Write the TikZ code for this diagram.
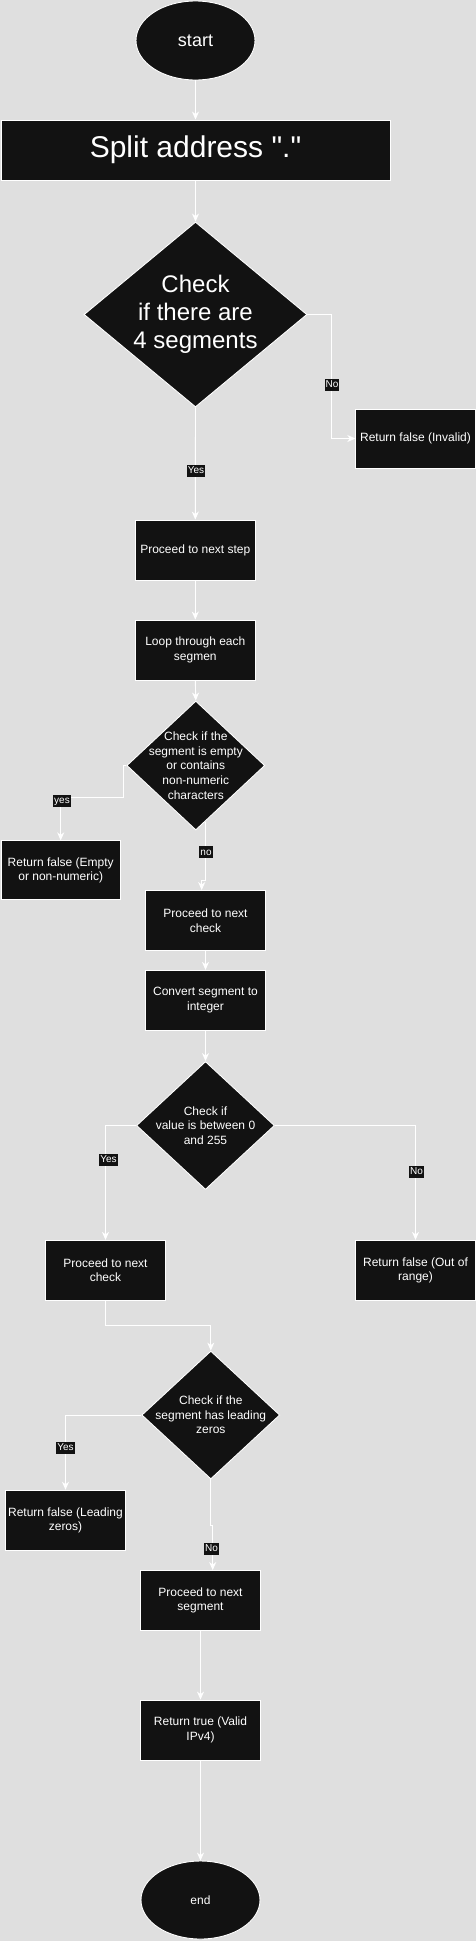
\documentclass[tikz,border=0pt]{standalone}
\usepackage{fontspec}
\setmainfont{Liberation Sans}
\newfontfamily\rawfont{Liberation Sans}[Ligatures=TeXOff]
\usetikzlibrary{shapes.geometric,arrows.meta,calc}
\definecolor{bg}{HTML}{DFDFDF}
\definecolor{nodefill}{HTML}{121212}
\tikzset{
 base/.style={draw=white, line width=0.9pt, fill=nodefill, text=white, align=center, inner sep=0pt},
 box/.style={base, rectangle, minimum width=120pt, minimum height=60pt, font=\fontsize{12}{14.6}\selectfont},
 oval/.style={base, ellipse, minimum width=119pt, minimum height=79pt},
 dia/.style={base, diamond, minimum width=138pt, minimum height=128pt},
 dtext/.style={text=white, align=center, inner sep=0pt, font=\fontsize{12}{14.6}\selectfont},
 arr/.style={draw=white, line width=0.9pt, -{Stealth[length=8pt,width=7pt,inset=2.5pt]}},
 lbl/.style={fill=nodefill, text=white, inner xsep=1pt, inner ysep=1.2pt, text height=7.4pt, text depth=2pt, font=\fontsize{10}{12}\selectfont},
}
\begin{document}
\begin{tikzpicture}[x=1pt,y=-1pt]
\fill[bg] (0,0) rectangle (476,1941);
\useasboundingbox (0,0) rectangle (476,1941);

% nodes
\node[oval, font=\fontsize{18}{21}\selectfont] (startn) at (195.5,40.5) {start};
\node[box, minimum width=389pt, font=\rawfont\fontsize{30}{36}\selectfont] (split) at (195.5,150) {Split address "."};
\node[dia, minimum width=223pt, minimum height=185pt] (d1) at (195.5,314.5) {};
\node[dtext, font=\fontsize{24}{28}\selectfont] (d1t) at (d1.center) {Check\\if there are\\4 segments};
\node[box, minimum width=119.5pt, minimum height=59pt] (inv) at (415.5,438.5) {Return false (Invalid)};
\node[box] (step) at (195.3,550) {Proceed to next step};
\node[box] (loop) at (195.3,650) {Loop through each\\segmen};
\node[dia, minimum height=129pt] (d2) at (195.8,765.5) {};
\node[dtext] (d2t) at (d2.center) {Check if the\\segment is empty\\or contains\\non-numeric\\characters};
\node[box, minimum width=119pt, minimum height=59pt] (empty) at (60.7,870.3) {Return false (Empty\\or non-numeric)};
\node[box] (chk1) at (205.5,920.5) {Proceed to next\\check};
\node[box] (conv) at (205.5,1000.3) {Convert segment to\\integer};
\node[dia] (d3) at (205.5,1125.5) {};
\node[dtext] (d3t) at (d3.center) {Check if\\value is between 0\\and 255};
\node[box] (chk2) at (105.5,1270.3) {Proceed to next\\check};
\node[box, minimum width=119.5pt] (oor) at (415.5,1270.3) {Return false (Out of\\range)};
\node[dia] (d4) at (210.8,1415) {};
\node[dtext] (d4t) at (d4.center) {Check if the\\segment has leading\\zeros};
\node[box] (lead) at (65.5,1520.2) {Return false (Leading\\zeros)};
\node[box] (nseg) at (200.5,1600.5) {Proceed to next\\segment};
\node[box] (vtrue) at (200.5,1730) {Return true (Valid\\IPv4)};
\node[oval, minimum height=78pt, font=\fontsize{12}{14}\selectfont] (stop) at (200.5,1900) {end};

% connectors
\draw[arr] (startn.south) -- (split.north);
\draw[arr] (split.south) -- (d1.north);
\draw[arr] (d1.east) -- (331.7,314.5) |- (inv.west);
\draw[arr] (d1.south) -- (step.north);
\draw[arr] (step.south) -- (loop.north);
\draw[arr] (loop.south) -- (d2.north);
\draw[arr] (d2.west) -- (123.3,765.5) -- (123.3,797.3) -| (empty.north);
\coordinate (d2o) at (205.7,821.7);
\draw[arr] (d2o) -- (205.7,880) -- (201.7,880) -- (201.7,0 |- chk1.north);
\draw[arr] (chk1.south) -- (conv.north);
\draw[arr] (conv.south) -- (d3.north);
\draw[arr] (d3.west) -| (chk2.north);
\draw[arr] (d3.east) -| (oor.north);
\draw[arr] (chk2.south) -- (105.5,1325) -| (d4.north);
\draw[arr] (d4.west) -| (lead.north);
\draw[arr] (d4.south) -- (210.8,1525) -- (212.7,1525) -- (212.7,0 |- nseg.north);
\draw[arr] (nseg.south) -- (vtrue.north);
\draw[arr] (vtrue.south) -- (stop.north);

% labels
\node[lbl] (lNo1) at (332,385) {No};
\node[lbl] (lYes1) at (196,470.7) {Yes};
\node[lbl] (lyes2) at (62,801) {yes};
\node[lbl] (lno2) at (206,852.3) {no};
\node[lbl] (lYes3) at (108.5,1160) {Yes};
\node[lbl] (lNo3) at (416.5,1172) {No};
\node[lbl] (lYes4) at (65.5,1447.8) {Yes};
\node[lbl] (lNo4) at (211.5,1549) {No};
\end{tikzpicture}
\end{document}
